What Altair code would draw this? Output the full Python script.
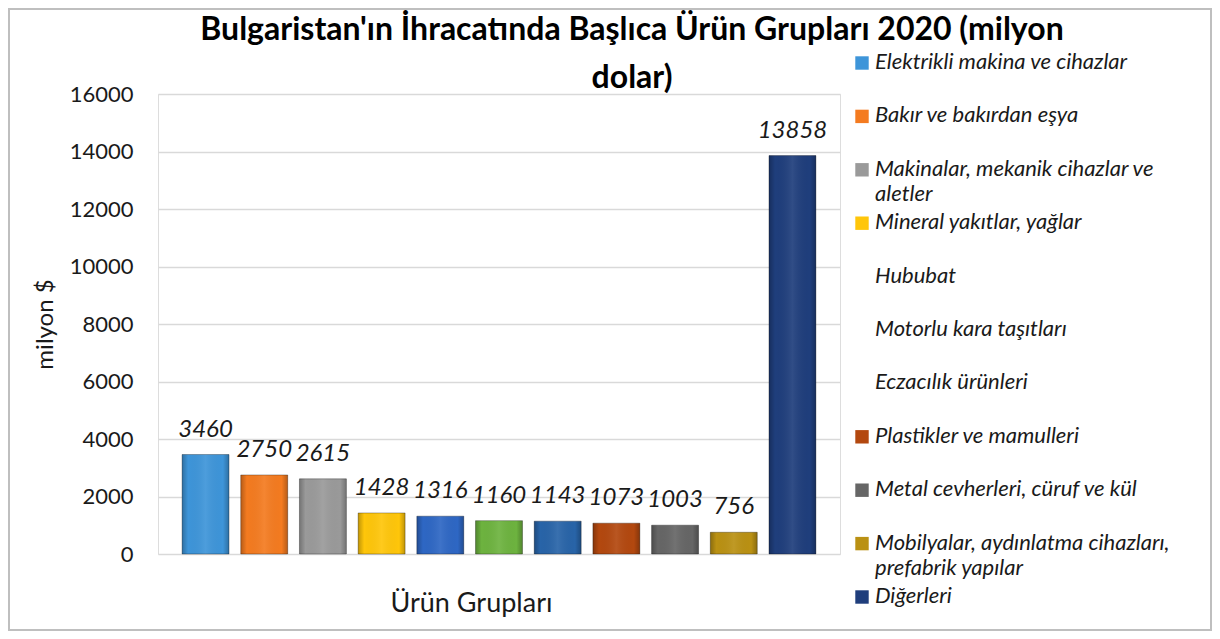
import altair as alt
import pandas as pd

categories = [
    "Elektrikli makina ve cihazlar",
    "Bakır ve bakırdan eşya",
    "Makinalar, mekanik cihazlar ve aletler",
    "Mineral yakıtlar, yağlar",
    "Hububat",
    "Motorlu kara taşıtları",
    "Eczacılık ürünleri",
    "Plastikler ve mamulleri",
    "Metal cevherleri, cüruf ve kül",
    "Mobilyalar, aydınlatma cihazları, prefabrik yapılar",
    "Diğerleri",
]
values = [3460, 2750, 2615, 1428, 1316, 1160, 1143, 1073, 1003, 756, 13858]
legend_labels = [
    "Elektrikli makina ve cihazlar",
    "Bakır ve bakırdan eşya",
    "Makinalar, mekanik cihazlar ve\naletler",
    "Mineral yakıtlar, yağlar",
    "Hububat",
    "Motorlu kara taşıtları",
    "Eczacılık ürünleri",
    "Plastikler ve mamulleri",
    "Metal cevherleri, cüruf ve kül",
    "Mobilyalar, aydınlatma cihazları,\nprefabrik yapılar",
    "Diğerleri",
]
bar_colors = ["#3E95D9", "#F47B20", "#9A9A9A", "#FFC60A", "#2E67C4", "#6DB33F",
              "#2864A8", "#B3480F", "#666666", "#BA9113", "#1F3E7C"]
swatch_colors = ["#3E95D9", "#F47B20", "#9A9A9A", "#FFC60A", "transparent", "transparent",
                 "transparent", "#B3480F", "#666666", "#BA9113", "#1F3E7C"]
y_ticks = [0, 2000, 4000, 6000, 8000, 10000, 12000, 14000, 16000]

title_lines = ["Bulgaristan'ın İhracatında Başlıca Ürün Grupları 2020 (milyon", "dolar)"]
y_title = "milyon $"
x_title = "Ürün Grupları"

df = pd.DataFrame({
    "kategori": categories,
    "deger": values,
    "etiket": legend_labels,
    "swatch": swatch_colors,
})

FONT = "Lato"
TXT = "#1a1a1a"
W, H = 682, 460

x_enc = alt.X(
    "kategori:N", sort=categories,
    scale=alt.Scale(paddingInner=0.2, paddingOuter=0.41),
    axis=alt.Axis(labels=False, ticks=False, domain=False, grid=False,
                  title=x_title, titleFontSize=27, titleFontWeight="normal",
                  titleFont=FONT, titleColor=TXT, titleX=313, titleY=57,
                  titleBaseline="alphabetic", titleAlign="center"),
)
y_enc = alt.Y(
    "deger:Q",
    scale=alt.Scale(domain=[0, 16000], nice=False),
    axis=alt.Axis(values=y_ticks, title=y_title, format="d",
                  labelFontSize=22, labelFont=FONT, labelColor=TXT,
                  labelPadding=25, ticks=False, tickSize=0, domain=False,
                  gridColor="#D9D9D9", gridWidth=1.5,
                  titleFontSize=24, titleFont=FONT, titleFontWeight="normal",
                  titleColor=TXT, titleX=-101),
)

base = alt.Chart(df)

border = alt.Chart(pd.DataFrame({"k": [0]})).mark_rect(
    fillOpacity=0, stroke="#BFBFBF", strokeWidth=2
).encode(x=alt.value(-149), x2=alt.value(1053), y=alt.value(-85), y2=alt.value(536))

bars = base.mark_bar(stroke="#000000", strokeOpacity=0.3, strokeWidth=1).encode(
    x=x_enc, y=y_enc,
    color=alt.Color("kategori:N", scale=alt.Scale(domain=categories, range=bar_colors), legend=None),
)

bevel_fill = alt.Gradient(
    gradient="linear", x1=0, y1=0, x2=1, y2=0,
    stops=[
        alt.GradientStop(offset=0, color="rgba(0,0,0,0.25)"),
        alt.GradientStop(offset=0.13, color="rgba(0,0,0,0)"),
        alt.GradientStop(offset=0.5, color="rgba(255,255,255,0.08)"),
        alt.GradientStop(offset=0.87, color="rgba(0,0,0,0)"),
        alt.GradientStop(offset=1, color="rgba(0,0,0,0.25)"),
    ],
)
bevel = base.mark_bar(fill=bevel_fill).encode(x=x_enc, y="deger:Q")

labels = base.mark_text(
    dy=-18, fontStyle="italic", fontSize=24, font=FONT, color=TXT, baseline="alphabetic"
).encode(x=x_enc, y="deger:Q", text=alt.Text("deger:Q", format="d"))

leg_y = alt.Y("kategori:N", sort=categories,
              scale=alt.Scale(type="point", range=[-31, 503], padding=0), axis=None)
swatches = base.mark_square(size=180, opacity=1).encode(
    x=alt.value(704), y=leg_y, fill=alt.Fill("swatch:N", scale=None)
)
leg_text = base.mark_text(
    align="left", baseline="top", dy=-11, fontSize=22, fontStyle="italic",
    font=FONT, color=TXT, lineBreak="\n", lineHeight=25
).encode(x=alt.value(717), y=leg_y, text="etiket:N")

main = alt.layer(border, bars, bevel, labels)
legend = alt.layer(swatches, leg_text)

chart = alt.layer(main, legend).resolve_scale(y="independent").properties(
    width=W, height=H,
    autosize=alt.AutoSizeParams(type="none"),
    padding={"left": 150, "top": 86, "right": 372, "bottom": 77},
    title=alt.TitleParams(text=title_lines, fontSize=32, font=FONT, fontWeight="bold",
                          color="#000000", anchor="middle", frame="group", dx=133,
                          offset=-87, lineHeight=48),
).configure_view(stroke="transparent").configure(background="white")

chart.save("out.html", embed_options={"renderer": "svg", "actions": False})
